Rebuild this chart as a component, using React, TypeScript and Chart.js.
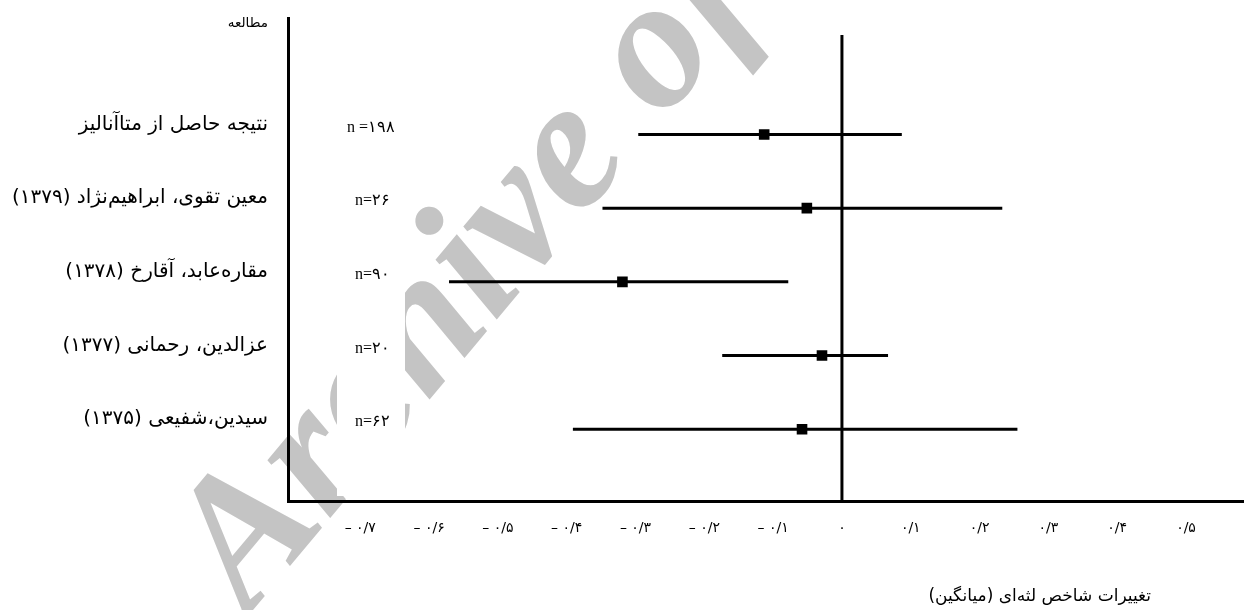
import React, { useEffect, useRef } from 'react';
import { Chart, registerables } from 'chart.js';

Chart.register(...registerables);

// ---------- data ----------
const STUDY_LABELS = [
  'نتیجه حاصل از متاآنالیز',
  'معین تقوی، ابراهیم‌نژاد (۱۳۷۹)',
  'مقاره‌عابد، آقارخ (۱۳۷۸)',
  'عزالدین، رحمانی (۱۳۷۷)',
  'سیدین،شفیعی (۱۳۷۵)',
];
const N_LABELS = ['n =۱۹۸', 'n=۲۶', 'n=۹۰', 'n=۲۰', 'n=۶۲'];
const MEANS = [-0.113, -0.051, -0.319, -0.029, -0.058];
const LOWER = [-0.296, -0.348, -0.571, -0.174, -0.391];
const UPPER = [0.087, 0.233, -0.078, 0.067, 0.255];
const X_TICKS = [-0.7, -0.6, -0.5, -0.4, -0.3, -0.2, -0.1, 0, 0.1, 0.2, 0.3, 0.4, 0.5];
const X_TICK_LABELS = [
  '– ۰/۷', '– ۰/۶', '– ۰/۵', '– ۰/۴', '– ۰/۳', '– ۰/۲', '– ۰/۱',
  '۰', '۰/۱', '۰/۲', '۰/۳', '۰/۴', '۰/۵',
];
const HEADER = 'مطالعه';
const X_TITLE = 'تغییرات شاخص لثه‌ای (میانگین)';
const WATERMARK = 'Archive of SID';

const X_MIN = -0.805;
const X_MAX = 0.585;
const Y_MIN = -0.58;
const Y_MAX = 5.976;
const ZERO_LINE_TOP = -0.35;

const PERSIAN_FONT = "'DejaVu Sans', 'Noto Sans', sans-serif";
const SERIF_FONT = "'Liberation Serif', 'DejaVu Serif', serif";

export default function App() {
  const canvasRef = useRef<HTMLCanvasElement | null>(null);

  useEffect(() => {
    const canvas = canvasRef.current;
    if (!canvas) return;

    const watermarkPlugin = {
      id: 'watermark',
      beforeDraw(chart: any) {
        const ctx = chart.ctx;
        ctx.save();
        ctx.translate(248, 616);
        ctx.rotate((-50 * Math.PI) / 180);
        ctx.font = `bold italic 186px ${SERIF_FONT}`;
        ctx.fillStyle = '#c4c4c4';
        ctx.textAlign = 'left';
        ctx.textBaseline = 'alphabetic';
        ctx.fillText(WATERMARK, 0, 0);
        ctx.restore();
        // white text-box column of the n labels (hides the watermark there)
        ctx.save();
        ctx.fillStyle = '#fff';
        ctx.fillRect(337, 60, 68, 436);
        ctx.restore();
      },
    };

    const textPlugin = {
      id: 'forestText',
      afterDraw(chart: any) {
        const ctx = chart.ctx;
        const yScale = chart.scales.y;
        ctx.save();
        ctx.fillStyle = '#000';
        ctx.textBaseline = 'middle';

        // study labels (RTL)
        ctx.direction = 'rtl';
        ctx.textAlign = 'right';
        ctx.font = `20px ${PERSIAN_FONT}`;
        STUDY_LABELS.forEach((lab, i) => {
          const y = yScale.getPixelForValue(i + 1) - 10;
          ctx.fillText(lab, 268, y);
        });
        ctx.font = `13.5px ${PERSIAN_FONT}`;
        ctx.fillText(HEADER, 268, 23);
        ctx.font = `17px ${PERSIAN_FONT}`;
        ctx.fillText(X_TITLE, 1151, 597);

        // n labels (LTR)
        ctx.direction = 'ltr';
        ctx.textAlign = 'left';
        ctx.font = `16px ${SERIF_FONT}`;
        N_LABELS.forEach((lab, i) => {
          const y = yScale.getPixelForValue(i + 1) - 7;
          ctx.fillText(lab, i === 0 ? 347 : 355, y);
        });
        ctx.restore();
      },
    };

    const lineStyle = {
      showLine: true,
      borderColor: '#000',
      borderWidth: 3,
      pointRadius: 0,
      pointHoverRadius: 0,
      fill: false,
    };

    const datasets: any[] = [];
    LOWER.forEach((lo, i) => {
      datasets.push({
        ...lineStyle,
        data: [
          { x: lo, y: i + 1 },
          { x: UPPER[i], y: i + 1 },
        ],
      });
    });
    datasets.push({
      ...lineStyle,
      data: [
        { x: 0, y: ZERO_LINE_TOP },
        { x: 0, y: Y_MAX },
      ],
    });
    datasets.push({
      showLine: false,
      data: MEANS.map((m, i) => ({ x: m, y: i + 1 })),
      pointStyle: 'rect',
      pointRadius: 7.5,
      pointHoverRadius: 7.5,
      backgroundColor: '#000',
      borderWidth: 0,
    });

    const chart = new Chart(canvas, {
      type: 'scatter',
      data: { datasets },
      options: {
        animation: false,
        responsive: false,
        devicePixelRatio: 1,
        events: [],
        layout: { padding: { left: 288, top: 18, right: 0, bottom: 54 } },
        plugins: {
          legend: { display: false },
          tooltip: { enabled: false },
          title: { display: false },
        },
        scales: {
          x: {
            type: 'linear',
            position: 'bottom',
            min: X_MIN,
            max: X_MAX,
            border: { display: true, color: '#000', width: 3 },
            grid: { display: false, drawTicks: false },
            afterBuildTicks: (scale: any) => {
              scale.ticks = X_TICKS.map((v) => ({ value: v }));
            },
            ticks: {
              autoSkip: false,
              maxRotation: 0,
              padding: 19,
              color: '#000',
              font: { family: PERSIAN_FONT, size: 14 },
              callback: (_v: any, idx: number) => X_TICK_LABELS[idx],
            },
          },
          y: {
            type: 'linear',
            position: 'left',
            reverse: true,
            min: Y_MIN,
            max: Y_MAX,
            border: { display: true, color: '#000', width: 3 },
            grid: { display: false, drawTicks: false },
            ticks: { display: false },
          },
        },
      },
      plugins: [watermarkPlugin, textPlugin],
    });

    return () => chart.destroy();
  }, []);

  return (
    <div style={{ position: 'fixed', left: 0, top: 0, width: 1244, height: 610, background: '#fff', overflow: 'hidden' }}>
      <canvas ref={canvasRef} width={1252} height={610} style={{ width: 1252, height: 610, display: 'block' }} />
    </div>
  );
}
